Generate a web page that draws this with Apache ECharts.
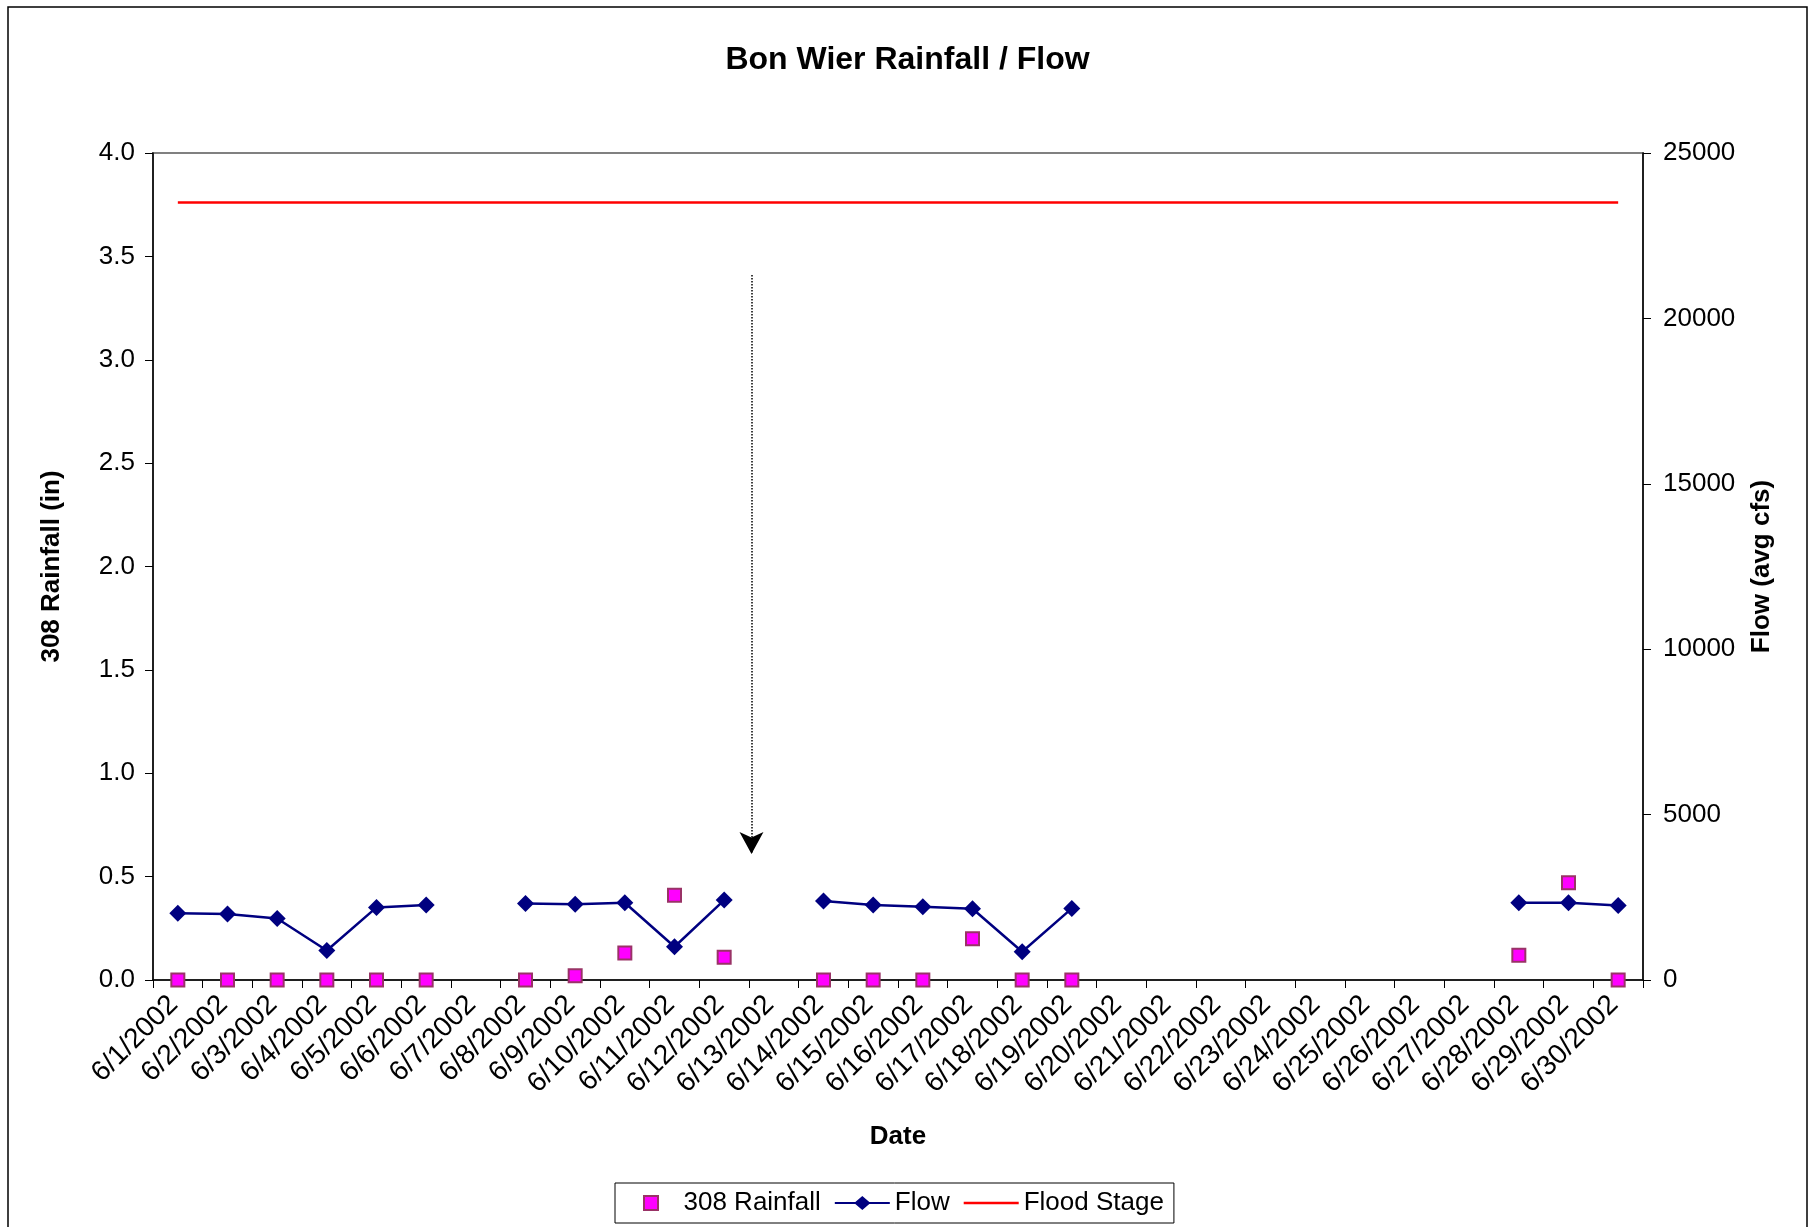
<!DOCTYPE html>
<html>
<head>
<meta charset="utf-8">
<script src="https://cdn.jsdelivr.net/npm/echarts@6/dist/echarts.min.js"></script>
<style>
  html, body { margin: 0; padding: 0; background: #fff; }
  #chart { width: 1815px; height: 1227px; }
</style>
</head>
<body>
<div id="chart"></div>
<script>
const dates = ['6/1/2002','6/2/2002','6/3/2002','6/4/2002','6/5/2002','6/6/2002','6/7/2002','6/8/2002','6/9/2002','6/10/2002',
  '6/11/2002','6/12/2002','6/13/2002','6/14/2002','6/15/2002','6/16/2002','6/17/2002','6/18/2002','6/19/2002','6/20/2002',
  '6/21/2002','6/22/2002','6/23/2002','6/24/2002','6/25/2002','6/26/2002','6/27/2002','6/28/2002','6/29/2002','6/30/2002'];
const rainfall = [0, 0, 0, 0, 0, 0, null, 0, 0.02, 0.13,
  0.41, 0.11, null, 0, 0, 0, 0.20, 0, 0, null,
  null, null, null, null, null, null, null, 0.12, 0.47, 0];
const flow = [2015, 1995, 1860, 890, 2195, 2265, null, 2315, 2290, 2335,
  1005, 2415, null, 2385, 2265, 2215, 2155, 855, 2165, null,
  null, null, null, null, null, null, null, 2335, 2335, 2255];
const floodStage = [23500, 23500, 23500, 23500, 23500, 23500, 23500, 23500, 23500, 23500,
  23500, 23500, 23500, 23500, 23500, 23500, 23500, 23500, 23500, 23500,
  23500, 23500, 23500, 23500, 23500, 23500, 23500, 23500, 23500, 23500];
const rainTicks = [0, 4.0, 0.5];       // min, max, interval
const flowTicks = [0, 25000, 5000];    // min, max, interval
// annotation arrow (x in day-position units, y in rainfall inches)
const arrowX = 12.55;
const arrowTop = 3.41;
const arrowBottom = 0.61;

const FONT = '"Liberation Sans", Arial, sans-serif';
const chart = echarts.init(document.getElementById('chart'), null, { renderer: 'canvas' });

chart.setOption({
  backgroundColor: '#fff',
  animation: false,
  textStyle: { fontFamily: FONT, color: '#000' },
  graphic: [{
    type: 'rect', silent: true, z: -1,
    shape: { x: 8, y: 7, width: 1799, height: 1300 },
    style: { fill: 'none', stroke: '#000', lineWidth: 1.5 }
  }],
  title: {
    text: 'Bon Wier Rainfall / Flow',
    left: 'center', top: 39,
    textStyle: { fontFamily: FONT, fontSize: 32, fontWeight: 'bold', color: '#000' }
  },
  legend: {
    top: 1183, left: 615,
    orient: 'horizontal',
    borderColor: '#000', borderWidth: 1,
    padding: [7, 10, 7, 28],
    itemGap: 14, itemWidth: 55, itemHeight: 14,
    symbolKeepAspect: true,
    textStyle: { fontFamily: FONT, fontSize: 26, color: '#000' },
    data: [
      { name: '308 Rainfall', icon: 'path://M0,0L14,0L14,14L0,14Z',
        itemStyle: { color: '#FF00FF', borderColor: '#993366', borderWidth: 2 } },
      { name: 'Flow', icon: 'path://M0,6L20.5,6L27.5,0L34.5,6L55,6L55,8L34.5,8L27.5,14L20.5,8L0,8Z',
        itemStyle: { color: '#000080', borderWidth: 0 } },
      { name: 'Flood Stage', icon: 'path://M0,0L55,0L55,2.5L0,2.5Z',
        itemStyle: { color: '#FF0000', borderWidth: 0 } }
    ]
  },
  grid: {
    left: 153, right: 172, top: 153, bottom: 247,
    show: true, borderColor: '#808080', borderWidth: 2, backgroundColor: 'transparent'
  },
  xAxis: [{
    type: 'category',
    data: dates,
    boundaryGap: true,
    axisLine: { lineStyle: { color: '#000', width: 1.5 } },
    axisTick: { show: true, interval: 0, length: 8, lineStyle: { color: '#000' } },
    axisLabel: { interval: 0, rotate: 45, fontSize: 28, color: '#000', margin: 16, fontFamily: FONT,
      padding: [0, 6, 0, 0] },
    name: 'Date', nameLocation: 'middle', nameGap: 144,
    nameTextStyle: { fontFamily: FONT, fontSize: 26, fontWeight: 'bold', color: '#000' },
    splitLine: { show: false }
  }, {
    type: 'value', show: false, min: 0.5, max: 30.5
  }],
  yAxis: [{
    type: 'value', position: 'left',
    min: rainTicks[0], max: rainTicks[1], interval: rainTicks[2],
    axisLine: { show: true, lineStyle: { color: '#000', width: 1.5 } },
    axisTick: { show: true, length: 8, lineStyle: { color: '#000' } },
    axisLabel: { fontSize: 26, color: '#000', margin: 18, fontFamily: FONT,
      formatter: v => v.toFixed(1) },
    splitLine: { show: false },
    name: '308 Rainfall (in)', nameLocation: 'middle', nameGap: 88, nameRotate: 90,
    nameTextStyle: { fontFamily: FONT, fontSize: 26, fontWeight: 'bold', color: '#000' }
  }, {
    type: 'value', position: 'right',
    min: flowTicks[0], max: flowTicks[1], interval: flowTicks[2],
    axisLine: { show: true, lineStyle: { color: '#000', width: 1.5 } },
    axisTick: { show: true, length: 8, lineStyle: { color: '#000' } },
    axisLabel: { fontSize: 26, color: '#000', margin: 20, fontFamily: FONT,
      formatter: v => String(v) },
    splitLine: { show: false },
    name: 'Flow (avg cfs)', nameLocation: 'middle', nameGap: 106, nameRotate: 90,
    nameTextStyle: { fontFamily: FONT, fontSize: 26, fontWeight: 'bold', color: '#000' }
  }],
  series: [{
    name: 'Flood Stage',
    type: 'line',
    xAxisIndex: 0, yAxisIndex: 1,
    data: floodStage,
    showSymbol: false, symbol: 'none',
    lineStyle: { color: '#FF0000', width: 2.5 },
    itemStyle: { color: '#FF0000' },
    z: 2
  }, {
    name: 'Flow',
    type: 'line',
    xAxisIndex: 0, yAxisIndex: 1,
    data: flow,
    connectNulls: false,
    symbol: 'diamond', symbolSize: [17, 17], showSymbol: true,
    lineStyle: { color: '#000080', width: 2.5 },
    itemStyle: { color: '#000080' },
    z: 3
  }, {
    name: '308 Rainfall',
    type: 'scatter',
    xAxisIndex: 0, yAxisIndex: 0,
    data: rainfall,
    symbol: 'rect', symbolSize: 13,
    itemStyle: { color: '#FF00FF', borderColor: '#993366', borderWidth: 2, opacity: 1 },
    z: 4
  }, {
    name: 'arrow',
    type: 'line',
    xAxisIndex: 1, yAxisIndex: 0,
    data: [[arrowX, arrowTop], [arrowX, arrowBottom]],
    showSymbol: false, symbol: 'none',
    lineStyle: { opacity: 0 },
    silent: true,
    markLine: {
      silent: true,
      symbol: ['none', 'arrow'],
      symbolSize: [18, 22],
      label: { show: false },
      lineStyle: { color: '#000', type: 'dotted', width: 1.5 },
      data: [[{ coord: [arrowX, arrowTop] }, { coord: [arrowX, arrowBottom] }]]
    }
  }]
});
</script>
</body>
</html>
